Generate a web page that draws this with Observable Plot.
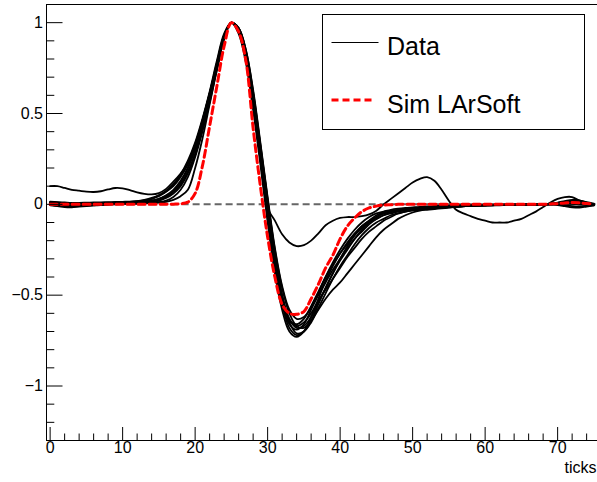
<!DOCTYPE html>
<html>
<head>
<meta charset="utf-8">
<script src="https://cdn.jsdelivr.net/npm/d3@7"></script>
<script src="https://cdn.jsdelivr.net/npm/@observablehq/plot@0.6"></script>
<style>
  body { margin: 0; background: #fff; }
  #chart { position: relative; width: 597px; height: 482px; }
</style>
</head>
<body>
<div id="chart"></div>
<script>
// ---- data (x = tick index 0..75) ----
const tickIndex = d3.range(0, 76);

const data01 = [
  0.10,0.10,0.09,0.08,0.075,0.07,0.068,0.072,0.082,0.09,
  0.088,0.078,0.066,0.058,0.055,0.062,0.085,0.125,0.17,0.225,
  0.31,0.45,0.61,0.77,0.92,1.0,0.95,0.8,0.56,0.26,
  -0.02,-0.09,-0.165,-0.21,-0.23,-0.225,-0.2,-0.16,-0.115,-0.09,
  -0.075,-0.07,-0.07,-0.065,-0.055,-0.035,0.0,0.03,0.06,0.09,
  0.12,0.14,0.15,0.13,0.08,0.02,-0.03,-0.05,-0.065,-0.08,
  -0.09,-0.1,-0.1,-0.1,-0.09,-0.08,-0.06,-0.04,-0.015,0.01,
  0.03,0.04,0.04,0.02,0.0,0.0];
const data02 = [
  0.0,-0.01,-0.015,-0.016,-0.012,-0.01,-0.006,-0.002,0.0,0.004,
  0.006,0.008,0.01,0.014,0.02,0.03,0.045,0.07,0.11,0.18,
  0.28,0.42,0.58,0.75,0.92,1.0,0.95,0.8,0.55,0.25,
  -0.06,-0.34,-0.55,-0.68,-0.72,-0.7,-0.64,-0.55,-0.46,-0.38,
  -0.3,-0.23,-0.17,-0.12,-0.09,-0.06,-0.045,-0.035,-0.03,-0.025,
  -0.02,-0.018,-0.015,-0.012,-0.01,-0.008,-0.006,-0.005,-0.004,-0.004,
  -0.003,-0.003,-0.002,-0.002,-0.002,-0.001,0.0,0.0,0.0,0.002,
  0.005,0.01,0.012,0.008,0.004,0.002];
const data03 = [
  0.01,0.008,0.006,0.005,0.005,0.006,0.006,0.007,0.008,0.009,
  0.01,0.01,0.012,0.015,0.02,0.03,0.05,0.08,0.13,0.2,
  0.31,0.45,0.6,0.77,0.93,1.0,0.97,0.85,0.62,0.33,
  0.03,-0.25,-0.46,-0.6,-0.67,-0.68,-0.64,-0.58,-0.52,-0.47,
  -0.43,-0.38,-0.33,-0.28,-0.23,-0.18,-0.14,-0.11,-0.08,-0.06,
  -0.045,-0.035,-0.03,-0.026,-0.022,-0.018,-0.014,-0.011,-0.008,-0.006,
  -0.004,-0.003,-0.003,-0.002,-0.002,-0.002,-0.001,-0.001,0.0,0.0,
  0.002,0.004,0.006,0.004,0.0,-0.004];
const data04 = [
  0.005,0.003,0.0,-0.002,-0.003,-0.002,0.0,0.002,0.003,0.004,
  0.004,0.005,0.006,0.008,0.01,0.02,0.035,0.06,0.1,0.17,
  0.27,0.41,0.57,0.75,0.91,1.0,0.94,0.78,0.52,0.22,
  -0.1,-0.38,-0.58,-0.7,-0.73,-0.7,-0.62,-0.52,-0.42,-0.34,
  -0.27,-0.21,-0.16,-0.12,-0.09,-0.07,-0.05,-0.04,-0.03,-0.025,
  -0.022,-0.02,-0.018,-0.016,-0.014,-0.012,-0.01,-0.008,-0.007,-0.006,
  -0.005,-0.004,-0.003,-0.002,-0.002,-0.001,0.0,0.0,0.001,0.003,
  0.008,0.015,0.02,0.015,0.005,-0.005];
const data05 = [
  0.012,0.01,0.006,0.004,0.004,0.005,0.006,0.006,0.007,0.008,
  0.008,0.009,0.01,0.02,0.03,0.045,0.07,0.1,0.15,0.22,
  0.32,0.46,0.61,0.77,0.92,1.0,0.96,0.83,0.6,0.3,
  0.0,-0.28,-0.5,-0.63,-0.68,-0.67,-0.62,-0.54,-0.46,-0.38,
  -0.31,-0.25,-0.19,-0.14,-0.1,-0.07,-0.05,-0.04,-0.035,-0.03,
  -0.028,-0.026,-0.024,-0.022,-0.02,-0.017,-0.014,-0.011,-0.008,-0.006,
  -0.005,-0.005,-0.004,-0.004,-0.003,-0.003,-0.002,-0.001,0.0,0.002,
  0.006,0.012,0.018,0.02,0.012,0.004];
const data06 = [
  -0.005,-0.008,-0.01,-0.012,-0.01,-0.008,-0.006,-0.004,-0.002,0.0,
  0.001,0.002,0.003,0.005,0.008,0.012,0.02,0.04,0.08,0.15,
  0.26,0.4,0.56,0.74,0.91,1.0,0.95,0.8,0.55,0.25,
  -0.05,-0.33,-0.53,-0.64,-0.66,-0.63,-0.56,-0.48,-0.4,-0.33,
  -0.27,-0.22,-0.17,-0.13,-0.1,-0.08,-0.06,-0.05,-0.04,-0.035,
  -0.03,-0.026,-0.022,-0.019,-0.016,-0.014,-0.012,-0.01,-0.009,-0.008,
  -0.007,-0.006,-0.005,-0.004,-0.003,-0.002,-0.002,-0.001,0.0,0.0,
  -0.004,-0.01,-0.016,-0.018,-0.012,-0.006];
const data07 = [
  0.008,0.006,0.004,0.003,0.003,0.004,0.005,0.007,0.009,0.011,
  0.012,0.014,0.017,0.022,0.03,0.05,0.07,0.11,0.16,0.23,
  0.33,0.46,0.61,0.78,0.93,1.0,0.97,0.84,0.61,0.32,
  0.02,-0.27,-0.5,-0.65,-0.71,-0.7,-0.65,-0.57,-0.49,-0.41,
  -0.34,-0.28,-0.22,-0.17,-0.13,-0.1,-0.08,-0.06,-0.05,-0.04,
  -0.034,-0.03,-0.026,-0.022,-0.018,-0.015,-0.012,-0.01,-0.008,-0.007,
  -0.006,-0.005,-0.004,-0.004,-0.003,-0.003,-0.002,-0.002,-0.001,0.0,
  0.0,-0.005,-0.01,-0.012,-0.008,-0.004];
const data08 = [
  0.0,0.002,0.003,0.002,0.0,-0.002,-0.003,-0.002,0.0,0.002,
  0.003,0.004,0.005,0.006,0.007,0.009,0.014,0.025,0.045,0.08,
  0.2,0.36,0.55,0.74,0.91,1.0,0.95,0.81,0.57,0.27,
  -0.04,-0.32,-0.53,-0.66,-0.69,-0.66,-0.58,-0.49,-0.4,-0.32,
  -0.25,-0.19,-0.14,-0.1,-0.07,-0.05,-0.04,-0.03,-0.024,-0.02,
  -0.017,-0.014,-0.012,-0.01,-0.008,-0.007,-0.006,-0.005,-0.004,-0.003,
  -0.003,-0.002,-0.002,-0.001,-0.001,0.0,0.0,0.0,0.001,0.004,
  0.01,0.018,0.025,0.022,0.01,0.0];
const data09 = [
  0.015,0.012,0.01,0.008,0.008,0.009,0.01,0.011,0.012,0.013,
  0.014,0.015,0.018,0.025,0.035,0.05,0.075,0.11,0.165,0.24,
  0.34,0.47,0.62,0.79,0.94,1.0,0.97,0.85,0.63,0.34,
  0.04,-0.24,-0.45,-0.58,-0.63,-0.62,-0.57,-0.5,-0.43,-0.36,
  -0.3,-0.24,-0.19,-0.15,-0.11,-0.08,-0.06,-0.045,-0.035,-0.028,
  -0.022,-0.018,-0.015,-0.013,-0.011,-0.01,-0.009,-0.008,-0.007,-0.006,
  -0.005,-0.004,-0.004,-0.003,-0.003,-0.002,-0.002,-0.001,-0.001,0.0,
  0.002,0.004,0.003,0.0,-0.003,-0.005];
const data10 = [
  -0.004,-0.006,-0.006,-0.004,-0.002,0.0,0.002,0.004,0.005,0.006,
  0.006,0.007,0.008,0.01,0.014,0.022,0.04,0.07,0.12,0.2,
  0.3,0.44,0.6,0.77,0.92,1.0,0.96,0.82,0.58,0.28,
  -0.02,-0.3,-0.51,-0.64,-0.67,-0.65,-0.6,-0.53,-0.47,-0.41,
  -0.35,-0.29,-0.24,-0.19,-0.15,-0.12,-0.09,-0.07,-0.05,-0.04,
  -0.03,-0.024,-0.02,-0.016,-0.013,-0.011,-0.009,-0.008,-0.007,-0.006,
  -0.005,-0.004,-0.004,-0.003,-0.003,-0.002,-0.002,-0.001,0.0,0.0,
  0.003,0.008,0.012,0.01,0.004,0.0];

const simLArSoft = [
  0,0,0,0,0,0,0,0,0,0,
  0,0,0,0,0,0,0,0.001,0.003,0.012,
  0.06,0.21,0.43,0.65,0.87,1.0,0.95,0.79,0.42,0.1,
  -0.18,-0.4,-0.55,-0.6,-0.605,-0.59,-0.52,-0.44,-0.35,-0.28,
  -0.19,-0.12,-0.075,-0.04,-0.02,-0.01,-0.004,-0.002,0,0,
  0,0,0,0,0,0,0,0,0,0,
  0,0,0,0,0,0,0,0,0,0.002,
  0.004,0.008,0.01,0.008,0.004,0.002];

const dataSeries = [data01,data02,data03,data04,data05,data06,data07,data08,data09,data10];
const legendLabels = ["Data", "Sim LArSoft"];
const xTitle = "ticks";

const xMajorTicks = [0,10,20,30,40,50,60,70];
const xMajorLabels = ["0","10","20","30","40","50","60","70"];
const xMinorTicks = [2,4,6,8,12,14,16,18,22,24,26,28,32,34,36,38,42,44,46,48,52,54,56,58,62,64,66,68,72,74];
const yMajorTicks = [-1,-0.5,0,0.5,1];
const yMajorLabels = ["\u22121","\u22120.5","0","0.5","1"];
const yMinorTicks = [-1.2,-1.1,-0.9,-0.8,-0.7,-0.6,-0.4,-0.3,-0.2,-0.1,0.1,0.2,0.3,0.4,0.6,0.7,0.8,0.9];
const xDomain = [-0.5, 75.5];
const yDomain = [-1.3, 1.1];
const zeroLine = [{y: 0, x1: 0, x2: 75.5}];

// ---- tables ----
const dataRows = dataSeries.flatMap((arr, s) => arr.map((v, i) => ({x: tickIndex[i], y: v, series: s})));
const simRows = simLArSoft.map((v, i) => ({x: tickIndex[i], y: v}));

// ---- layout ----
const W = 597, H = 482, mL = 46, mR = 0, mT = 4, mB = 42;
const frameW = W - mL - mR, frameH = H - mT - mB;
const font = "'Liberation Sans', Arial, Helvetica, sans-serif";

const plot = Plot.plot({
  width: W, height: H,
  marginLeft: mL, marginRight: mR, marginTop: mT, marginBottom: mB,
  x: {domain: xDomain, axis: null},
  y: {domain: yDomain, axis: null},
  style: {fontFamily: font, background: "white", color: "black"},
  marks: [
    Plot.ruleY(zeroLine, {y: "y", x1: "x1", x2: "x2", stroke: "#666", strokeWidth: 2, strokeDasharray: "7,4"}),
    Plot.line(dataRows, {x: "x", y: "y", z: "series", stroke: "black", strokeWidth: 1.8, curve: "catmull-rom"}),
    Plot.line(simRows, {x: "x", y: "y", stroke: "#ff0000", strokeWidth: 3, strokeDasharray: "7,4", curve: "catmull-rom"}),
    // frame (left, top, bottom)
    Plot.ruleX([xDomain[0]], {stroke: "black", strokeWidth: 1}),
    Plot.ruleY([yDomain[1], yDomain[0]], {stroke: "black", strokeWidth: 1}),
    // ticks pointing inward
    Plot.ruleX(xMajorTicks, {x: d => d, insetTop: frameH - 13, stroke: "black"}),
    Plot.ruleX(xMinorTicks, {x: d => d, insetTop: frameH - 6.5, stroke: "black"}),
    Plot.ruleY(yMajorTicks, {y: d => d, insetRight: frameW - 16.5, stroke: "black"}),
    Plot.ruleY(yMinorTicks, {y: d => d, insetRight: frameW - 8.3, stroke: "black"}),
    // tick labels
    Plot.text(xMajorTicks, {x: d => d, frameAnchor: "bottom", dy: 12.5, text: (d, i) => xMajorLabels[i], fontSize: 16, fill: "black"}),
    Plot.text(yMajorTicks, {y: d => d, frameAnchor: "left", dx: -3.5, textAnchor: "end", text: (d, i) => yMajorLabels[i], fontSize: 16, fill: "black"}),
    Plot.text([xTitle], {frameAnchor: "bottom-right", dx: -1, dy: 32.5, textAnchor: "end", text: d => d, fontSize: 16, fill: "black"})
  ]
});

// legend box inside the frame (ROOT TLegend style)
const svg = d3.select(plot);
const lg = svg.append("g").attr("font-family", font).attr("text-anchor", "start");
lg.append("rect").attr("x", 322.5).attr("y", 14.5).attr("width", 262).attr("height", 115)
  .attr("fill", "white").attr("stroke", "black").attr("stroke-width", 1);
lg.append("line").attr("x1", 331.5).attr("x2", 378.5).attr("y1", 42.5).attr("y2", 42.5)
  .attr("stroke", "black").attr("stroke-width", 1);
lg.append("text").attr("x", 387).attr("y", 55).attr("font-size", 25).attr("fill", "black")
  .attr("text-anchor", "start").text(legendLabels[0]);
lg.append("line").attr("x1", 331.5).attr("x2", 375).attr("y1", 100).attr("y2", 100)
  .attr("stroke", "#ff0000").attr("stroke-width", 3).attr("stroke-dasharray", "7,4");
lg.append("text").attr("x", 387).attr("y", 113).attr("font-size", 25).attr("fill", "black")
  .attr("text-anchor", "start").text(legendLabels[1]);

document.getElementById("chart").appendChild(plot);
</script>
</body>
</html>
